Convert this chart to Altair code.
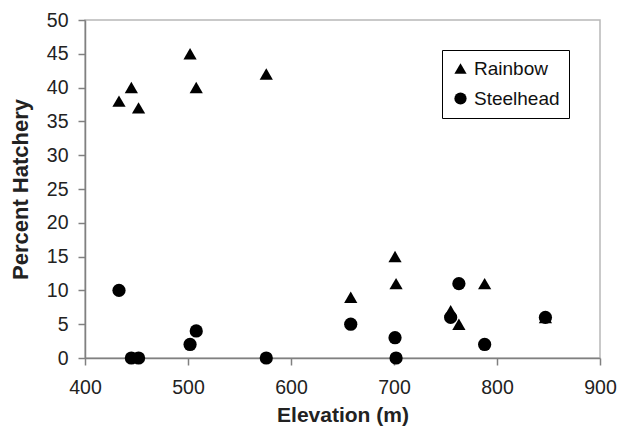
import altair as alt
import pandas as pd

elevation = [433, 445, 452, 502, 508, 576, 658, 701, 702, 755, 763, 788, 847]
rainbow = [38, 40, 37, 45, 40, 42, 9, 15, 11, 7, 5, 11, 6]
steelhead = [10, 0, 0, 2, 4, 0, 5, 3, 0, 6, 11, 2, 6]
series = ["Rainbow", "Steelhead"]
x_ticks = [400, 500, 600, 700, 800, 900]
y_ticks = list(range(0, 55, 5))

rows = []
for name, vals in zip(series, [rainbow, steelhead]):
    for e, v in zip(elevation, vals):
        rows.append({"Elevation": e, "Percent": v, "Series": name})
df = pd.DataFrame(rows)

FONT = "Liberation Sans"

chart = alt.Chart(df).mark_point(filled=True, color="black", opacity=1, size=175).encode(
    x=alt.X("Elevation:Q", scale=alt.Scale(domain=[400, 900], nice=False, zero=False),
            axis=alt.Axis(values=x_ticks, title="Elevation (m)", grid=False, labelFlush=False,
                          labelPadding=13, titlePadding=8, titleFontSize=21)),
    y=alt.Y("Percent:Q", scale=alt.Scale(domain=[0, 50], nice=False),
            axis=alt.Axis(values=y_ticks, title="Percent Hatchery", grid=False,
                          labelPadding=10, titlePadding=14, titleFontSize=22)),
    shape=alt.Shape("Series:N", scale=alt.Scale(domain=series, range=["triangle-up", "circle"]),
                    legend=alt.Legend(title=None, orient="none", legendX=357, legendY=30,
                                      strokeColor="black", padding=9, rowPadding=10,
                                      labelFontSize=19, labelFont=FONT, labelColor="#111",
                                      symbolSize=150, symbolFillColor="black",
                                      symbolStrokeWidth=0, labelOffset=4)),
    order=alt.Order("Series:N", sort="ascending"),
).properties(
    width=515, height=338,
    autosize=alt.AutoSizeParams(type="none"),
    padding={"left": 77, "top": 12, "right": 17, "bottom": 69},
).configure_view(
    stroke="#b8b8b8", strokeWidth=1.5
).configure_axis(
    domainColor="#808080", domainWidth=1.5, tickColor="#808080", tickWidth=1.5, tickSize=7,
    labelFont=FONT, labelFontSize=19.5, labelColor="#222",
    titleFont=FONT, titleFontWeight="bold", titleColor="#222",
)

chart.save("out.html", embed_options={"renderer": "svg", "actions": False})
